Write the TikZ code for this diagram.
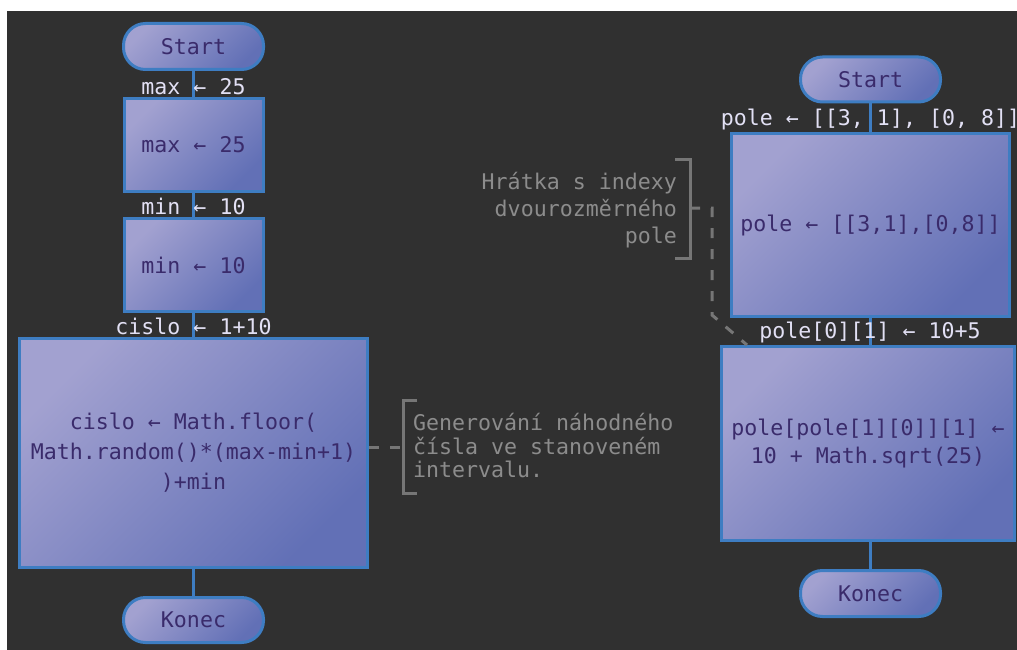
\documentclass[tikz,border=0pt]{standalone}
\usepackage{fontspec}
\setmonofont{DejaVu Sans Mono}

\definecolor{canvas}{HTML}{303030}
\definecolor{boxlight}{HTML}{A2A1D0}
\definecolor{boxdark}{HTML}{6270B6}
\definecolor{edgeblue}{HTML}{3E7DC2}
\definecolor{inktext}{HTML}{3A2B6B}
\definecolor{labeltext}{HTML}{E2E0F4}
\definecolor{notegrey}{HTML}{8C8C8C}
\definecolor{notestroke}{HTML}{767676}

\tikzset{
  procbox/.style={rectangle, draw=edgeblue, line width=3pt,
    top color=boxlight, bottom color=boxdark, shading angle=45,
    text=inktext, align=center, inner sep=0pt,
    font=\ttfamily\fontsize{21.6}{30}\selectfont},
  termbox/.style={procbox, rounded corners=22pt},
  link/.style={draw=edgeblue, line width=3pt},
  flowlabel/.style={text=labeltext, inner sep=0pt, anchor=base,
    font=\ttfamily\fontsize{21.6}{30}\selectfont},
  notetext/.style={text=notegrey, inner sep=0pt},
  notelink/.style={draw=notestroke, line width=3pt, dash pattern=on 10pt off 11pt},
  notebracket/.style={draw=notestroke, line width=3pt},
}

\begin{document}
\begin{tikzpicture}[x=1pt, y=-1pt]
\useasboundingbox (0,0) rectangle (1017,650);
\clip (0,0) rectangle (1017,650);
\fill[white] (0,0) rectangle (1017,650);
\fill[canvas] (7,11) rectangle (1017,650);

% ---- left flowchart ----
\node[termbox, minimum width=140pt, minimum height=46pt] (s1) at (193.5,46.5) {Start};
\node[procbox, minimum width=139pt, minimum height=93pt] (b1) at (193.5,145) {max ← 25};
\node[procbox, minimum width=139pt, minimum height=93pt] (b2) at (193.5,265) {min ← 10};
\node[procbox, minimum width=348pt, minimum height=229pt] (b3) at (193.5,453)
  {cislo ← Math.floor(\\Math.random()*(max-min+1)\\)+min};
\node[termbox, minimum width=140pt, minimum height=45pt] (k1) at (193.5,620) {Konec};

\draw[link] (s1.south) -- (s1.south |- b1.north);
\draw[link] (b1.south) -- (b1.south |- b2.north);
\draw[link] (b2.south) -- (b2.south |- b3.north);
\draw[link] (b3.south) -- (b3.south |- k1.north);

\node[flowlabel] (l1) at (193.5,95) {max ← 25};
\node[flowlabel] (l2) at (193.5,214) {min ← 10};
\node[flowlabel] (l3) at (193.5,334) {cislo ← 1+10};

% note beside the random-number box
\coordinate (n1tip) at (403,447);
\draw[notebracket] (417,400) -- (403,400) -- (403,493) -- (417,493);
\draw[notelink] (n1tip -| b3.east) -- (n1tip);
\node[notetext, anchor=west, align=left,
  font=\ttfamily\fontsize{21.6}{23.5}\selectfont] (note1) at (413,446)
  {Generování náhodného\\čísla ve stanoveném\\intervalu.};

% ---- right flowchart ----
\node[termbox, minimum width=140pt, minimum height=45pt] (s2) at (870.5,79.5) {Start};
\node[procbox, minimum width=278pt, minimum height=183pt] (b4) at (870.5,225) {pole ← [[3,1],[0,8]]};
\node[procbox, minimum width=293pt, minimum height=194pt,
  font=\ttfamily\fontsize{21.6}{28}\selectfont] (b5) at (868,443.5)
  {pole[pole[1][0]][1] ←\\10 + Math.sqrt(25)};
\node[termbox, minimum width=140pt, minimum height=46pt] (k2) at (870.5,593.5) {Konec};

\draw[link] (s2.south) -- (s2.south |- b4.north);
\draw[link] (b4.south) -- (b4.south |- b5.north);
\draw[link] (k2.north |- b5.south) -- (k2.north);

\node[flowlabel] (l4) at (870.5,126) {pole ← [[3, 1], [0, 8]]};
\node[flowlabel] (l5) at (870,338) {pole[0][1] ← 10+5};

% note about the two-dimensional array
\coordinate (n2tip) at (690,208);
\draw[notebracket] (675,159) -- (690,159) -- (690,258) -- (675,258);
\draw[notelink] (n2tip) -- ++(22,0) -- ++(0,107) -- ([xshift=27pt]b5.north west);
\node[notetext, anchor=east, align=right,
  font=\ttfamily\fontsize{21.6}{27}\selectfont] (note2) at (677,210)
  {Hrátka s indexy\\dvourozměrného\\pole};
\end{tikzpicture}
\end{document}
